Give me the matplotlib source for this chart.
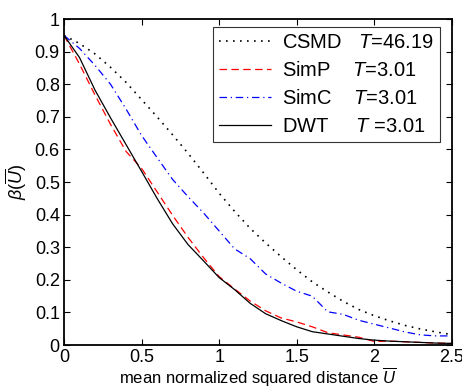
import numpy as np
import matplotlib
matplotlib.use("Agg")
import matplotlib.pyplot as plt

plt.rcParams['font.family'] = ['Liberation Sans', 'DejaVu Sans']
plt.rcParams['mathtext.fontset'] = 'custom'
plt.rcParams['mathtext.rm'] = 'Liberation Sans'
plt.rcParams['mathtext.it'] = 'Liberation Sans:italic'
plt.rcParams['mathtext.bf'] = 'Liberation Sans:bold'

# mean normalized squared distance
u = np.round(np.arange(0, 2.51, 0.1), 2)

csmd = [0.950, 0.925, 0.893, 0.852, 0.806, 0.753, 0.700, 0.645, 0.588, 0.528,
        0.466, 0.410, 0.358, 0.313, 0.271, 0.231, 0.194, 0.163, 0.134, 0.109,
        0.090, 0.074, 0.060, 0.049, 0.040, 0.032]
simp = [0.950, 0.862, 0.767, 0.677, 0.594, 0.542, 0.470, 0.398, 0.330, 0.268,
        0.210, 0.172, 0.135, 0.105, 0.083, 0.071, 0.056, 0.038, 0.031, 0.024,
        0.011, 0.012, 0.010, 0.008, 0.006, 0.005]
simc = [0.950, 0.910, 0.858, 0.800, 0.724, 0.643, 0.575, 0.508, 0.455, 0.405,
        0.350, 0.295, 0.265, 0.218, 0.190, 0.165, 0.150, 0.102, 0.094, 0.076,
        0.064, 0.052, 0.040, 0.031, 0.028, 0.028]
dwt = [0.950, 0.882, 0.782, 0.697, 0.615, 0.533, 0.450, 0.372, 0.308, 0.258,
       0.207, 0.170, 0.128, 0.096, 0.075, 0.056, 0.041, 0.034, 0.027, 0.020,
       0.015, 0.012, 0.010, 0.008, 0.006, 0.005]

labels = ["CSMD   $T$=46.19", "SimP    $T$=3.01", "SimC    $T$=3.01", "DWT     $T$ =3.01"]

fig = plt.figure(figsize=(4.62, 3.89), dpi=100)
ax = fig.add_axes([0.1385, 0.113, 0.8395, 0.838])

ax.plot(u, csmd, color='black', lw=1.2, linestyle=(0, (1, 3.2)), label=labels[0])
ax.plot(u, simp, color='red', lw=0.9, linestyle=(0, (6, 3.5)), label=labels[1])
ax.plot(u, simc, color='blue', lw=0.9, linestyle=(0, (6, 3, 1, 3)), label=labels[2])
ax.plot(u, dwt, color='black', lw=0.9, linestyle='-', label=labels[3])

ax.set_xlim(0, 2.5)
ax.set_ylim(0, 1)
ax.set_xticks([0, 0.5, 1, 1.5, 2, 2.5])
ax.set_xticklabels(['0', '0.5', '1', '1.5', '2', '2.5'])
ax.set_yticks(np.round(np.arange(0, 1.01, 0.1), 1))
ax.set_yticklabels(['0', '0.1', '0.2', '0.3', '0.4', '0.5', '0.6', '0.7', '0.8', '0.9', '1'])
ax.tick_params(direction='in', length=4, width=0.8, top=True, right=True,
               labelsize=13, pad=3)
for s in ax.spines.values():
    s.set_linewidth(1.3)

ax.set_xlabel(r'mean normalized squared distance $\overline{U}$', fontsize=12, labelpad=0)
ax.set_ylabel(r'$\beta(\overline{U})$', fontsize=13)
ax.yaxis.set_label_coords(-0.09, 0.5)

leg = ax.legend(loc='upper right', bbox_to_anchor=(0.969, 0.975), borderaxespad=0,
                fontsize=14.5, frameon=True, fancybox=False, handlelength=2.6,
                handletextpad=0.55, labelspacing=0.45, borderpad=0.3)
leg.get_frame().set_edgecolor('black')
leg.get_frame().set_linewidth(0.8)

fig.savefig('out.png', dpi=100)
